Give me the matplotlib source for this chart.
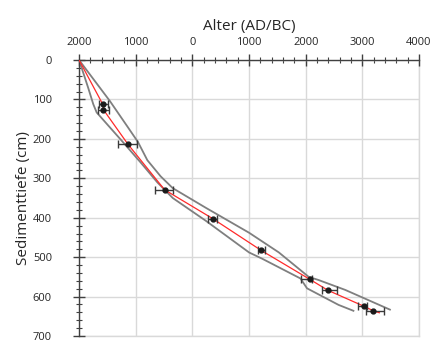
import matplotlib
matplotlib.use("Agg")
import matplotlib.pyplot as plt
from matplotlib.ticker import MultipleLocator, FuncFormatter

plt.rcParams['font.family'] = ['Open Sans', 'DejaVu Sans']

# age axis: negative = AD, positive = BC
# dated samples (age, depth, error left, error right)
sample_age = [-1574, -1574, -1135, -491, 356, 1216, 2070, 2391, 3035, 3193]
sample_depth = [111, 128, 214, 329, 402, 483, 556, 584, 625, 636]
err_left = [70, 90, 185, 175, 72, 64, 150, 106, 105, 135]
err_right = [88, 100, 165, 145, 86, 65, 40, 157, 41, 193]

# age-depth model (red)
model_age = [-2000, -1590, -1560, -1135, -491, 356, 1216, 2070, 2391, 3035, 3193, 3300]
model_depth = [0, 110, 128, 214, 329, 402, 483, 556, 584, 625, 636, 641]

# envelope, older side
upper_age = [-2000, -1456, -1150, -960, -795, -560, -346, 240, 1000, 1526, 2053, 2228, 2697, 3486]
upper_depth = [0, 104, 168, 208, 254, 295, 325, 375, 438, 488, 550, 558, 583, 633]

# envelope, younger side
lower_age = [-2000, -1840, -1749, -1689, -1251, -900, -620, -346, 240, 1000, 1233, 1907, 2023, 2579, 2842]
lower_depth = [0, 70, 112, 133, 204, 262, 310, 350, 408, 488, 504, 554, 579, 621, 636]

fig = plt.figure(figsize=(4.32, 3.45), dpi=100)
ax = fig.add_axes([0.183, 0.026, 0.787, 0.80])

ax.plot(upper_age, upper_depth, color='#7f7f7f', lw=1.3, zorder=2)
ax.plot(lower_age, lower_depth, color='#7f7f7f', lw=1.3, zorder=2)
ax.plot(model_age, model_depth, color='#ff2a2a', lw=0.9, zorder=3)
ax.errorbar(sample_age, sample_depth, xerr=[err_left, err_right], fmt='o',
            color='#1a1a1a', ecolor='#3a3a3a', ms=3.5, elinewidth=1.0,
            capsize=3, capthick=1.0, zorder=4)

ax.set_xlim(-2000, 4000)
ax.set_ylim(700, 0)

ax.xaxis.set_major_locator(MultipleLocator(1000))
ax.xaxis.set_minor_locator(MultipleLocator(200))
ax.yaxis.set_major_locator(MultipleLocator(100))
ax.yaxis.set_minor_locator(MultipleLocator(20))
ax.xaxis.set_major_formatter(FuncFormatter(lambda v, p: f"{abs(int(v))}"))

ax.xaxis.tick_top()
ax.xaxis.set_label_position('top')
ax.tick_params(which='major', direction='inout', length=9, width=1.0,
               color='#404040', labelsize=8, labelcolor='#262626')
ax.tick_params(which='minor', direction='inout', length=5, width=0.8,
               color='#404040')
ax.tick_params(axis='x', which='both', top=True, bottom=False, pad=4)
ax.tick_params(axis='y', which='both', pad=15)

ax.grid(True, which='major', color='#d9d9d9', lw=1.0, zorder=0)
ax.set_axisbelow(True)
for side in ['right', 'bottom']:
    ax.spines[side].set_visible(False)
for side in ['left', 'top']:
    ax.spines[side].set_color('#404040')
    ax.spines[side].set_linewidth(1.0)
# edge lines at 4000 and 700 look like grid lines
ax.axvline(4000, color='#d9d9d9', lw=1.0, zorder=0, clip_on=False)
ax.axhline(700, color='#d9d9d9', lw=1.0, zorder=0, clip_on=False)

ax.set_xlabel("Alter (AD/BC)", fontsize=11, color='#262626', labelpad=5)
ax.set_ylabel("Sedimenttiefe (cm)", fontsize=11, color='#262626')
ax.yaxis.set_label_coords(-0.14, 0.5)

fig.savefig("out.png", dpi=100)
